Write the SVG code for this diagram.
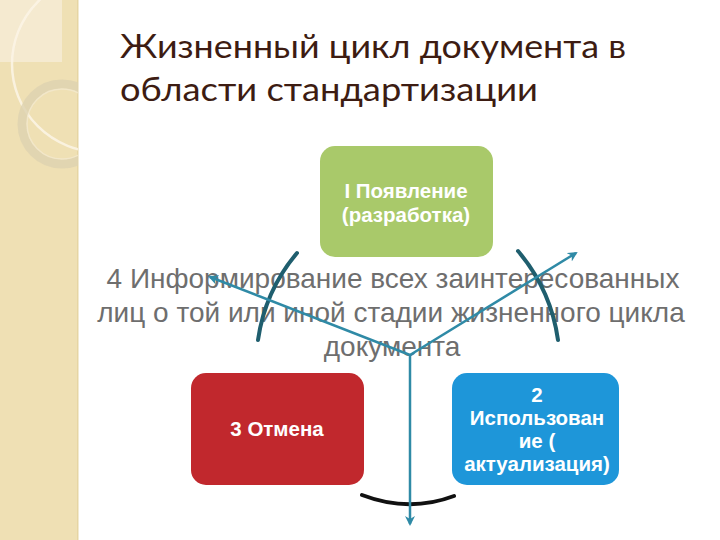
<svg xmlns="http://www.w3.org/2000/svg" width="720" height="540" viewBox="0 0 720 540">
<defs>
<style>
.title{font-family:Lato,"Open Sans","DejaVu Sans",sans-serif;font-size:33px;fill:#3d1c12}
.box-t{font-family:"Liberation Sans",Arial,sans-serif;font-weight:bold;font-size:20.5px;fill:#fff;text-anchor:middle}
.info{font-family:"Liberation Sans",Arial,sans-serif;font-size:28px;fill:#6e6e6e;text-anchor:middle}
.arr{stroke:#2f8aa6;stroke-width:2.5;fill:none;marker-end:url(#ah)}
.arc{stroke-width:4;fill:none;stroke-linecap:round}
</style>
<marker id="ah" viewBox="0 0 10 10" refX="8" refY="5" markerWidth="4" markerHeight="4" orient="auto" markerUnits="strokeWidth">
<path d="M0,0 L10,5 L0,10 L3,5 Z" fill="#2f8aa6"/>
</marker>
<clipPath id="strip"><rect x="0" y="0" width="78" height="540"/></clipPath>
</defs>
<rect width="720" height="540" fill="#ffffff"/>
<g id="decor">
<rect x="0" y="0" width="78" height="540" fill="#efe0b4"/>
<rect x="77" y="0" width="1.5" height="540" fill="#e6d5a3"/>
<g clip-path="url(#strip)">
<rect x="0" y="0" width="62" height="62" fill="#f5ead0"/>
<circle cx="100" cy="64" r="88" fill="none" stroke="#fbf5e6" stroke-width="2.5" opacity="0.85"/>
<circle cx="62" cy="124" r="40" fill="none" stroke="#ddd2b0" stroke-width="9" opacity="0.8"/>
<circle cx="62" cy="124" r="35" fill="none" stroke="#f3ead2" stroke-width="1.5" opacity="0.7"/>
</g>
</g>
<g id="title">
<text class="title" x="120" y="58" textLength="506" lengthAdjust="spacingAndGlyphs">Жизненный цикл документа в</text>
<text class="title" x="120" y="101" textLength="418" lengthAdjust="spacingAndGlyphs">области стандартизации</text>
</g>
<g id="node1">
<rect x="320" y="146" width="173" height="111" rx="15" fill="#a9c96a"/>
<text class="box-t" x="406" y="198">I Появление</text>
<text class="box-t" x="406" y="222">(разработка)</text>
</g>
<g id="node3">
<rect x="191" y="373" width="173" height="112" rx="15" fill="#c1282d"/>
<text class="box-t" x="277" y="436">3 Отмена</text>
</g>
<g id="node2">
<rect x="452" y="373" width="167" height="112" rx="15" fill="#1e96d9"/>
<text class="box-t" x="537" y="402">2</text>
<text class="box-t" x="537" y="425">Использован</text>
<text class="box-t" x="537" y="448">ие (</text>
<text class="box-t" x="537" y="471">актуализация)</text>
</g>
<g id="node4">
<text class="info" x="393" y="288">4 Информирование всех заинтересованных</text>
<text class="info" x="391" y="322">лиц о той или иной стадии жизненного цикла</text>
<text class="info" x="392" y="356">документа</text>
</g>
<g id="connectors">
<path class="arc" style="stroke:#1f5e6e" d="M297,253 Q265,291 258,340"/>
<path class="arc" style="stroke:#1f5e6e" d="M518,251 Q551,290 558,340"/>
<path class="arc" style="stroke:#111111" d="M362,495 Q409,513 454,496"/>
<line class="arr" x1="410" y1="355" x2="210" y2="277"/>
<line class="arr" x1="410" y1="355" x2="576" y2="253"/>
<line class="arr" x1="410" y1="355" x2="410" y2="524"/>
</g>
</svg>
